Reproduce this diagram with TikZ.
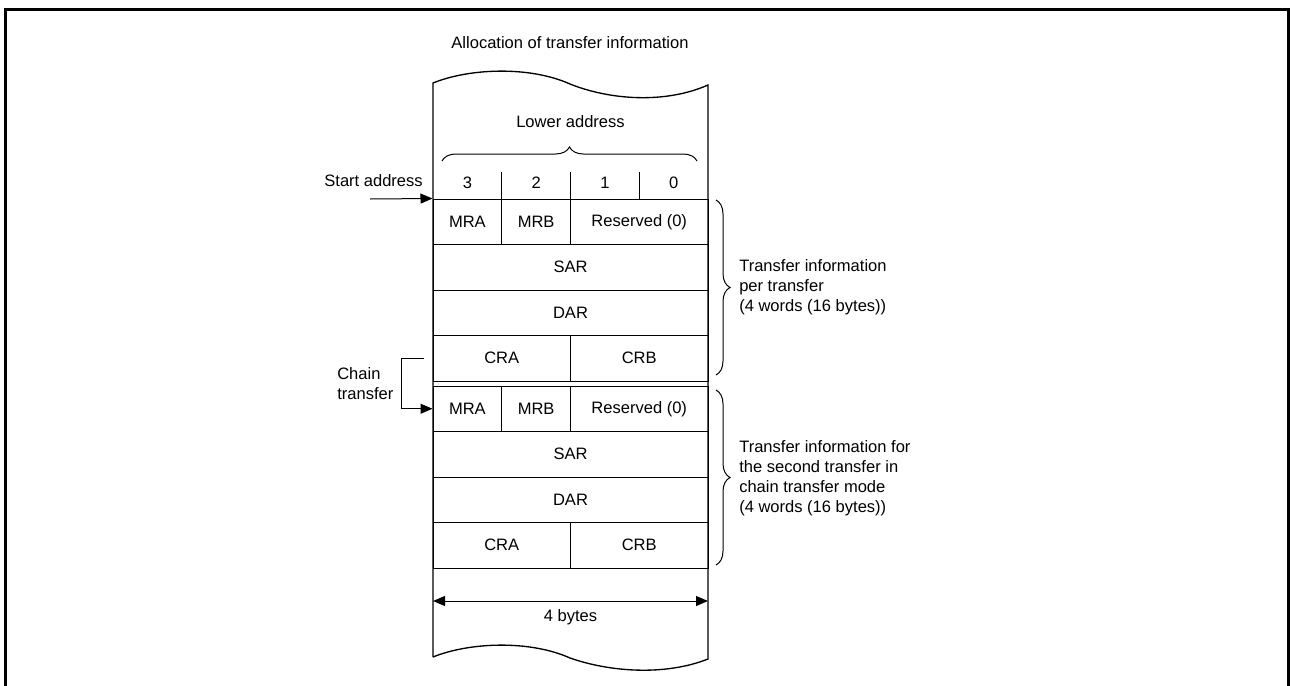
\documentclass[tikz,border=0pt]{standalone}
\usepackage{fontspec}
\setmainfont{Liberation Sans}
\usetikzlibrary{arrows.meta,calc,positioning,decorations.pathreplacing}
\tikzset{
  font=\fontsize{12.4}{15}\selectfont,
  outerFrame/.style={draw=black, line width=2.25pt},
  wall/.style={draw=black, line width=1pt},
  cell/.style={rectangle, draw=black, line width=0.75pt, minimum height=34.125pt, inner sep=0pt},
  oneCol/.style={cell, minimum width=51.5625pt},
  twoCol/.style={cell, minimum width=103.125pt},
  fourCol/.style={cell, minimum width=206.25pt},
  divider/.style={draw=black, line width=0.75pt},
  arrow/.style={-{Triangle[length=9pt,width=7.5pt]}, draw=black, line width=0.75pt},
  dblarrow/.style={{Triangle[length=9pt,width=7.5pt]}-{Triangle[length=9pt,width=7.5pt]}, draw=black, line width=0.75pt},
  curly/.style={decorate, decoration={brace, amplitude=10.5pt}, draw=black, line width=0.75pt},
  sideText/.style={align=left, anchor=west, inner sep=0pt}
}

\begin{document}
\begin{tikzpicture}[x=0.75pt,y=-0.75pt]
\useasboundingbox (0,0) rectangle (1290,686);

% --------------------------------------------------------------------------
% Frame and title
% --------------------------------------------------------------------------
\draw[outerFrame] (5,686) -- (5,9.5) -- (1288,9.5) -- (1288,686);
\node (title) at (570,43) {Allocation of transfer information};

% memory strip, cut at top and bottom
\draw[wall] (433,657) -- (433,83)
  .. controls (470,68) and (530,66) .. (570,84)
  .. controls (610,100) and (665,104) .. (708,85)
  -- (708,659)
  .. controls (665,676) and (610,672) .. (570,658)
  .. controls (530,640) and (470,642) .. (433,657);

% --------------------------------------------------------------------------
% Byte numbering
% --------------------------------------------------------------------------
\node (lowAddr) at (570.5,122) {Lower address};
\draw[curly] (442,161) -- (697,161);
\node (hdr3) at (467.375,183) {3};
\node (hdr2) at (536.125,183) {2};
\node (hdr1) at (604.875,183) {1};
\node (hdr0) at (673.625,183) {0};
\draw[divider] (501.75,172) -- (501.75,199);
\draw[divider] (570.5,172) -- (570.5,199);
\draw[divider] (639.25,172) -- (639.25,199);

% --------------------------------------------------------------------------
% First transfer
% --------------------------------------------------------------------------
\node[oneCol] (aMra) at (467.375,221.75) {MRA};
\node[oneCol] (aMrb) at (536.125,221.75) {MRB};
\node[twoCol] (aRes) at (639.25,221.75) {Reserved (0)};
\node[fourCol] (aSar) at (570.5,267.25) {SAR};
\node[fourCol] (aDar) at (570.5,312.75) {DAR};
\node[twoCol] (aCra) at (501.75,358.25) {CRA};
\node[twoCol] (aCrb) at (639.25,358.25) {CRB};

\draw[curly] (716,200) -- (716,375);
\node[sideText] (aInfo) at (739,287.5) {Transfer information\\per transfer\\(4 words (16 bytes))};

% --------------------------------------------------------------------------
% Second transfer (chain)
% --------------------------------------------------------------------------
\node[oneCol] (bMra) at (467.375,408.75) {MRA};
\node[oneCol] (bMrb) at (536.125,408.75) {MRB};
\node[twoCol] (bRes) at (639.25,408.75) {Reserved (0)};
\node[fourCol] (bSar) at (570.5,454.25) {SAR};
\node[fourCol] (bDar) at (570.5,499.75) {DAR};
\node[twoCol] (bCra) at (501.75,545.25) {CRA};
\node[twoCol] (bCrb) at (639.25,545.25) {CRB};

\draw[curly] (716,390) -- (716,565);
\node[sideText] (bInfo) at (739,478) {Transfer information for\\the second transfer in\\chain transfer mode\\(4 words (16 bytes))};

% --------------------------------------------------------------------------
% Pointers and width
% --------------------------------------------------------------------------
\node[anchor=east, inner sep=0pt] (startText) at (423,181) {Start address};
\coordinate (startTail) at (370,199);
\draw[arrow] (startTail) -- (aMra.north west);

\node[sideText] (chainText) at (337,384) {Chain\\transfer};
\coordinate (chainTail) at (424,358.25);
\coordinate (chainBend) at (401,358.25);
\draw[arrow] (chainTail) -- (chainBend) |- (bMra.west);

\coordinate (bytesL) at (433,601);
\coordinate (bytesR) at (708,601);
\draw[dblarrow] (bytesL) -- (bytesR);
\node (bytesText) at (570.5,617) {4 bytes};

\end{tikzpicture}
\end{document}
